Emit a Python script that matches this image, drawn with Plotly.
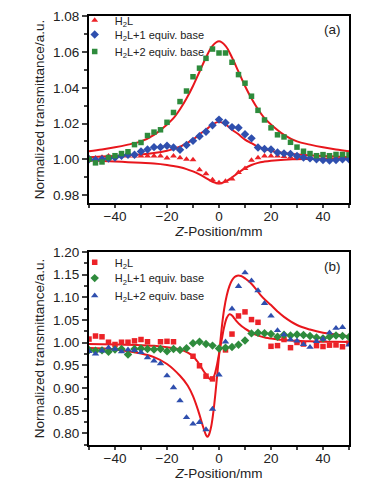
import plotly.graph_objects as go

# ---------------- data: panel (a) ----------------
z_pos = [-50, -47.5, -45, -42.5, -40, -37.5, -35, -32.5, -30, -27.5, -25, -22.5, -20, -17.5, -15, -12.5,
         -10, -7.5, -5, -2.5, 0, 2.5, 5, 7.5, 10, 12.5, 15, 17.5, 20, 22.5, 25, 27.5, 30, 32.5, 35, 37.5,
         40, 42.5, 45, 47.5, 50]

a_h2l = [1.0007, 1.0007, 1.0011, 1.0018, 1.0018, 1.0018, 1.0018, 1.0018, 1.0018, 1.0018, 1.0018, 1.0018,
         1.0007, 1.0018, 1.0008, 1.0000, 0.9997, 0.9941, 0.9919, 0.9886, 0.9868, 0.9877, 0.9890, 0.9926,
         0.9948, 0.9994, 1.0008, 1.0018, 1.0018, 1.0018, 1.0015, 1.0012, 1.0012, 1.0010, 1.0010, 1.0008,
         1.0008, 1.0008, 1.0008, 1.0007, 1.0007]
a_1eq = [1.0000, 0.9996, 1.0000, 1.0004, 1.0010, 1.0020, 1.0025, 1.0025, 1.0044, 1.0055, 1.0068, 1.0068,
         1.0076, 1.0066, 1.0053, 1.0080, 1.0103, 1.0129, 1.0154, 1.0190, 1.0222, 1.0205, 1.0180, 1.0176,
         1.0140, 1.0117, 1.0066, 1.0057, 1.0055, 1.0038, 1.0033, 1.0030, 1.0018, 1.0010, 1.0005, 1.0000,
         0.9996, 0.9993, 0.9996, 1.0000, 1.0000]
a_2eq = [1.0000, 0.9980, 0.9985, 1.0010, 1.0020, 1.0032, 1.0042, 1.0082, 1.0094, 1.0133, 1.0152, 1.0165,
         1.0207, 1.0262, 1.0323, 1.0382, 1.0462, 1.0510, 1.0565, 1.0617, 1.0595, 1.0595, 1.0543, 1.0474,
         1.0426, 1.0353, 1.0274, 1.0220, 1.0176, 1.0137, 1.0125, 1.0095, 1.0068, 1.0045, 1.0032, 1.0020,
         1.0026, 1.0020, 1.0027, 1.0027, 1.0025]

# fitted curves (a)
fa_z = [-50, -45, -40, -35, -30, -25, -20, -17.5, -15, -12.5, -10, -7.5, -5, -2.5, 0,
        2.5, 5, 7.5, 10, 12.5, 15, 17.5, 20, 25, 30, 35, 40, 45, 50]
fa_h2l = [0.9993, 0.9991, 0.9988, 0.9984, 0.9980, 0.9976, 0.9968, 0.9962, 0.9955, 0.9945, 0.9932, 0.9915,
          0.9895, 0.9874, 0.9865, 0.9875, 0.9898, 0.9925, 0.9950, 0.9968, 0.9980, 0.9987, 0.9992, 0.9998,
          1.0000, 1.0002, 1.0003, 1.0004, 1.0005]
fa_1eq = [1.0012, 1.0015, 1.0018, 1.0022, 1.0027, 1.0035, 1.0048, 1.0058, 1.0070, 1.0090, 1.0110, 1.0140,
          1.0165, 1.0195, 1.0210, 1.0195, 1.0165, 1.0140, 1.0110, 1.0090, 1.0070, 1.0058, 1.0048, 1.0035,
          1.0027, 1.0022, 1.0018, 1.0015, 1.0012]
fa_2eq = [1.0045, 1.0055, 1.0067, 1.0082, 1.0100, 1.0137, 1.0195, 1.0230, 1.0280, 1.0340, 1.0410, 1.0490,
          1.0570, 1.0635, 1.0660, 1.0635, 1.0570, 1.0490, 1.0410, 1.0340, 1.0280, 1.0230, 1.0195, 1.0137,
          1.0100, 1.0082, 1.0067, 1.0055, 1.0045]

# ---------------- data: panel (b) ----------------
b_h2l_z = [-50, -47.5, -45, -42.5, -40, -37.5, -35, -32.5, -30, -27.5, -22.5, -20, -17.5, -10, -7.5, -5, -2.5,
           2.5, 5, 7.5, 10, 12.5, 15, 20, 22.5, 25, 27.5, 30, 32.5, 37.5, 40, 42.5, 45, 47.5, 50]
b_h2l = [1.008, 1.0147, 1.013, 1.001, 0.996, 1.001, 1.001, 1.004, 1.007, 1.002, 1.002, 1.003, 1.002,
         0.970, 0.949, 0.926, 0.920, 0.984, 1.019, 1.059, 1.068, 1.051, 1.045, 0.992, 0.9935, 1.007, 0.989,
         1.0005, 0.997, 0.9935, 0.9915, 0.9945, 0.995, 0.991, 0.999]
b_1eq = [0.984, 0.982, 0.983, 0.980, 0.985, 0.986, 0.974, 0.986, 0.987, 0.986, 0.985, 0.986, 0.981, 0.986,
         0.984, 0.9875, 0.9985, 1.002, 0.997, 0.9935, 0.987, 0.989, 0.9905, 0.9956, 1.005, 1.0205, 1.022,
         1.021, 1.019, 1.013, 1.0176, 1.016, 1.018, 1.017, 1.0147, 1.0117, 1.0095, 1.013, 1.016, 1.0147, 1.0125]
b_2eq = [0.981, 0.975, 0.982, 0.989, 0.986, 0.980, 0.9846, 0.983, 0.9788, 0.967, 0.960, 0.954, 0.927, 0.901,
         0.872, 0.835, 0.8205, 0.824, 0.808, 0.8535, 0.929, 1.002, 1.0747, 1.1245, 1.1545, 1.137, 1.115,
         1.087, 1.059, 1.027, 1.018, 1.007, 1.004, 0.996, 0.990, 1.003, 1.008, 1.022, 1.032, 1.034, 0.995]

# fitted curves (b)
fb_z = [-50, -40, -30, -25, -20, -15, -12, -10, -8, -6, -5, -4.5, -4, -3, -2, -1, 0, 1, 2, 3, 4, 5, 6, 7, 8,
        9, 10, 12, 14, 16, 18, 20, 22.5, 25, 30, 35, 40, 45, 50]
fb_h2l = [0.997, 0.996, 0.9945, 0.993, 0.990, 0.985, 0.978, 0.970, 0.956, 0.938, 0.930, 0.926, 0.922, 0.919,
          0.925, 0.945, 0.975, 1.005, 1.035, 1.055, 1.063, 1.060, 1.053, 1.046, 1.040, 1.035, 1.031, 1.024,
          1.018, 1.014, 1.011, 1.009, 1.007, 1.006, 1.004, 1.003, 1.002, 1.0018, 1.0015]
fb_2eq = [0.988, 0.985, 0.976, 0.968, 0.953, 0.927, 0.905, 0.882, 0.850, 0.812, 0.796, 0.792, 0.795, 0.815,
          0.855, 0.910, 0.970, 1.030, 1.075, 1.105, 1.125, 1.138, 1.145, 1.148, 1.148, 1.146, 1.142, 1.133,
          1.120, 1.105, 1.093, 1.083, 1.069, 1.057, 1.039, 1.029, 1.022, 1.018, 1.014]

RED = "#ec2227"
FIT = "#e8161c"
BLUE = "#2f4fae"
GREEN = "#2e8b3c"
FONT = "Liberation Sans, Arial, sans-serif"
TXT = "#222"

fig = go.Figure()

def fit(x, y, xa, ya):
    fig.add_trace(go.Scatter(x=x, y=y, mode="lines", line=dict(color=FIT, width=2, shape="spline"),
                             showlegend=False, xaxis=xa, yaxis=ya, hoverinfo="skip"))

def pts(x, y, name, sym, col, size, xa, ya, leg):
    fig.add_trace(go.Scatter(x=x, y=y, mode="markers", name=name,
                             marker=dict(symbol=sym, color=col, size=size, line=dict(width=0)),
                             xaxis=xa, yaxis=ya, legend=leg))

# panel (a)
fit(fa_z, fa_h2l, "x", "y")
fit(fa_z, fa_1eq, "x", "y")
fit(fa_z, fa_2eq, "x", "y")
pts(z_pos, a_h2l, "H<sub>2</sub>L", "triangle-up", RED, 6, "x", "y", "legend")
pts(z_pos, a_1eq, "H<sub>2</sub>L+1 equiv. base", "diamond", BLUE, 6.5, "x", "y", "legend2")
pts(z_pos, a_2eq, "H<sub>2</sub>L+2 equiv. base", "square", GREEN, 5.5, "x", "y", "legend3")

# panel (b)
fit(fb_z, fb_h2l, "x2", "y2")
fit(fb_z, fb_2eq, "x2", "y2")
pts(b_h2l_z, b_h2l, "H<sub>2</sub>L", "square", RED, 5.5, "x2", "y2", "legend4")
pts(z_pos, b_1eq, "H<sub>2</sub>L+1 equiv. base", "diamond", GREEN, 6.5, "x2", "y2", "legend5")
pts(z_pos, b_2eq, "H<sub>2</sub>L+2 equiv. base", "triangle-up", BLUE, 6.5, "x2", "y2", "legend6")

xcommon = dict(range=[-50, 50], tickvals=[-40, -20, 0, 20, 40], ticks="outside", ticklen=3, tickwidth=1.5,
               minor=dict(dtick=10, tick0=0, ticks="outside", ticklen=3, tickwidth=1.5, showgrid=False),
               showline=True, linecolor="black", linewidth=2, mirror=True, showgrid=False, zeroline=False,
               automargin=False, tickfont=dict(size=13.5, color=TXT), ticklabelstandoff=-3,
               title=dict(text="<i>Z</i>-Position/mm", font=dict(size=13.5, color=TXT), standoff=2))
ycommon = dict(ticks="outside", ticklen=5, tickwidth=1.5, showline=True, linecolor="black", linewidth=2,
               mirror=True, showgrid=False, zeroline=False, automargin=False, tickfont=dict(size=13.5, color=TXT),
               ticklabeloverflow="allow",
               title=dict(text="Normalized transmittance/a.u.", font=dict(size=13.5, color=TXT), standoff=5))

LX = -0.055
def leg(y):
    return dict(x=LX, y=y, xanchor="left", yanchor="middle", bgcolor="rgba(0,0,0,0)",
                font=dict(size=11, color=TXT), itemwidth=30, borderwidth=0)

# page body has an 8px margin: the figure is sized/offset to compensate
fig.update_layout(
    width=365, height=482,
    margin=dict(l=81, r=24, t=8, b=45, autoexpand=False),
    paper_bgcolor="white", plot_bgcolor="white",
    font=dict(family=FONT, color=TXT),
    xaxis=dict(domain=[0, 1], anchor="y", **xcommon),
    yaxis=dict(domain=[0.5640, 1], anchor="x", range=[0.9755, 1.0802],
               tickvals=[0.98, 1.0, 1.02, 1.04, 1.06, 1.08], tickformat=".2f",
               minor=dict(dtick=0.01, ticks="outside", ticklen=3, tickwidth=1.5, showgrid=False), **ycommon),
    xaxis2=dict(domain=[0, 1], anchor="y2", **xcommon),
    yaxis2=dict(domain=[0, 0.4499], anchor="x2", range=[0.774, 1.2003], dtick=0.05, tickformat=".2f",
                minor=dict(dtick=0.025, ticks="outside", ticklen=3, tickwidth=1.5, showgrid=False), **ycommon),
    legend=leg(0.990), legend2=leg(0.957), legend3=leg(0.917),
    legend4=leg(0.426), legend5=leg(0.389), legend6=leg(0.348),
    annotations=[
        dict(text="(a)", xref="paper", yref="paper", x=0.935, y=0.969, xanchor="center", yanchor="middle",
             showarrow=False, font=dict(size=13.5, color=TXT)),
        dict(text="(b)", xref="paper", yref="paper", x=0.935, y=0.415, xanchor="center", yanchor="middle",
             showarrow=False, font=dict(size=13.5, color=TXT)),
    ],
)

fig.write_html("out.html")
